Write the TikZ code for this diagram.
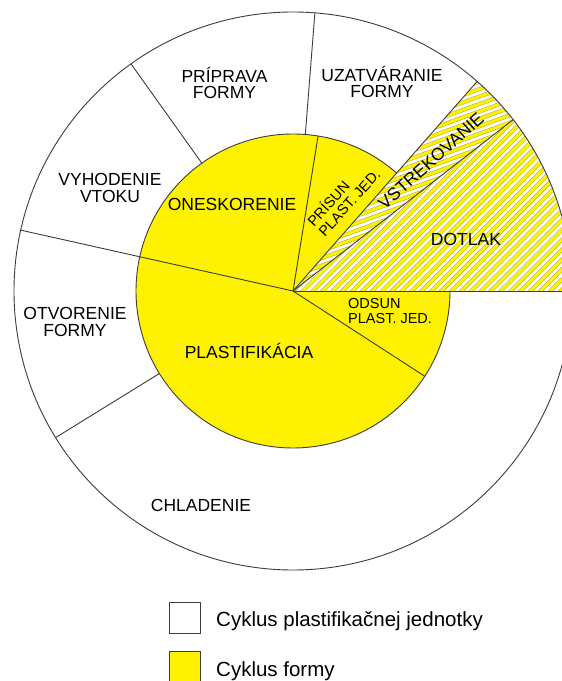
\documentclass[tikz,border=0pt]{standalone}
\usepackage{fontspec}
\setmainfont{Liberation Sans}
\definecolor{ylw}{RGB}{255,242,0}
\definecolor{edge}{RGB}{60,60,60}
\definecolor{olivedge}{RGB}{160,160,50}
\tikzset{
  ln/.style={draw=edge, line width=0.9pt},
  stripe/.style={draw=ylw, line width=3.1pt, preaction={draw=olivedge, line width=3.9pt}},
  lbl/.style={font=\fontsize{17.5}{16.5}\selectfont, align=center, inner sep=0pt},
  slbl/.style={font=\fontsize{14.5}{15}\selectfont, inner sep=0pt},
  leg/.style={font=\fontsize{20.5}{22}\selectfont, inner sep=0pt, anchor=base west},
  keybox/.style={draw=edge, line width=0.9pt, minimum size=31pt, inner sep=0pt}
}
\begin{document}
\begin{tikzpicture}[x=1pt,y=1pt]
\useasboundingbox (0,0) rectangle (562,681);
\clip (0,0) rectangle (562,681);
\fill[white] (0,0) rectangle (562,681);
\coordinate (c) at (293,390);
\def\R{279}
\def\r{157}
% base discs
\fill[white] (c) circle[radius=\R];
\fill[ylw] (c) circle[radius=\r];
% hatched sectors
\fill[white] (c) -- ++(0:\R) arc[start angle=0,end angle=48.7,radius=\R] -- cycle;
\begin{scope}
  \clip (c) -- ++(0:\R) arc[start angle=0,end angle=37.9,radius=\R] -- cycle;
  \begin{scope}[rotate around={45:(c)}]
    \foreach \k in {-50,...,50}{
      \draw[stripe] (-20,{390+(\k)*7}) -- (610,{390+(\k)*7});
    }
  \end{scope}
\end{scope}
\begin{scope}
  \clip (c) -- ++(37.9:\R) arc[start angle=37.9,end angle=48.7,radius=\R] -- cycle;
  \begin{scope}[rotate around={20:(c)}]
    \foreach \k in {-50,...,50}{
      \draw[stripe] (-20,{390+(\k)*7}) -- (610,{390+(\k)*7});
    }
  \end{scope}
\end{scope}
% outlines
\draw[ln] (c) circle[radius=\R];
\draw[ln] (c) ++(48.7:\r) arc[start angle=48.7,end angle=360,radius=\r];
% radial lines
\draw[ln] (c) -- ([shift={(0:\R)}]c);
\draw[ln] (c) -- ([shift={(37.9:\R)}]c);
\draw[ln] (c) -- ([shift={(48.7:\R)}]c);
\draw[ln] (c) -- ([shift={(80.8:\r)}]c);
\draw[ln] ([shift={(85.5:\r)}]c) -- ([shift={(85.5:\R)}]c);
\draw[ln] ([shift={(125.5:\r)}]c) -- ([shift={(125.5:\R)}]c);
\draw[ln] (c) -- ([shift={(167.4:\R)}]c);
\draw[ln] ([shift={(211.7:\r)}]c) -- ([shift={(211.7:\R)}]c);
\draw[ln] (c) -- ([shift={(327.1:\r)}]c);
% labels
\node[lbl] (priprava) at (224.5,598) {PRÍPRAVA\\FORMY};
\node[lbl] (uzatvaranie) at (382,599) {UZATVÁRANIE\\FORMY};
\node[lbl] (vyhodenie) at (110,493) {VYHODENIE\\VTOKU};
\node[lbl] (oneskorenie) at (232,477) {ONESKORENIE};
\node[lbl] (otvorenie) at (75,359) {OTVORENIE\\FORMY};
\node[lbl] (plastifikacia) at (249,330) {PLASTIFIKÁCIA};
\node[lbl] (chladenie) at (201,176) {CHLADENIE};
\node[lbl] (dotlak) at (466,442) {DOTLAK};
\node[lbl, rotate=42] (vstrekovanie) at (431,520) {VSTREKOVANIE};
\node[slbl, align=left, rotate=48] (prisun) at (343,484) {PRÍSUN\\PLAST. JED.};
\node[slbl, align=left, anchor=west] (odsun) at (348,369.5) {ODSUN\\PLAST. JED.};
% legend
\node[keybox, fill=white] (keyplast) at (184.5,63.5) {};
\node[keybox, fill=ylw] (keyforma) at (184.5,14.5) {};
\node[leg] (legplast) at (216,54) {Cyklus plastifikačnej jednotky};
\node[leg] (legforma) at (216,5) {Cyklus formy};
\end{tikzpicture}
\end{document}
